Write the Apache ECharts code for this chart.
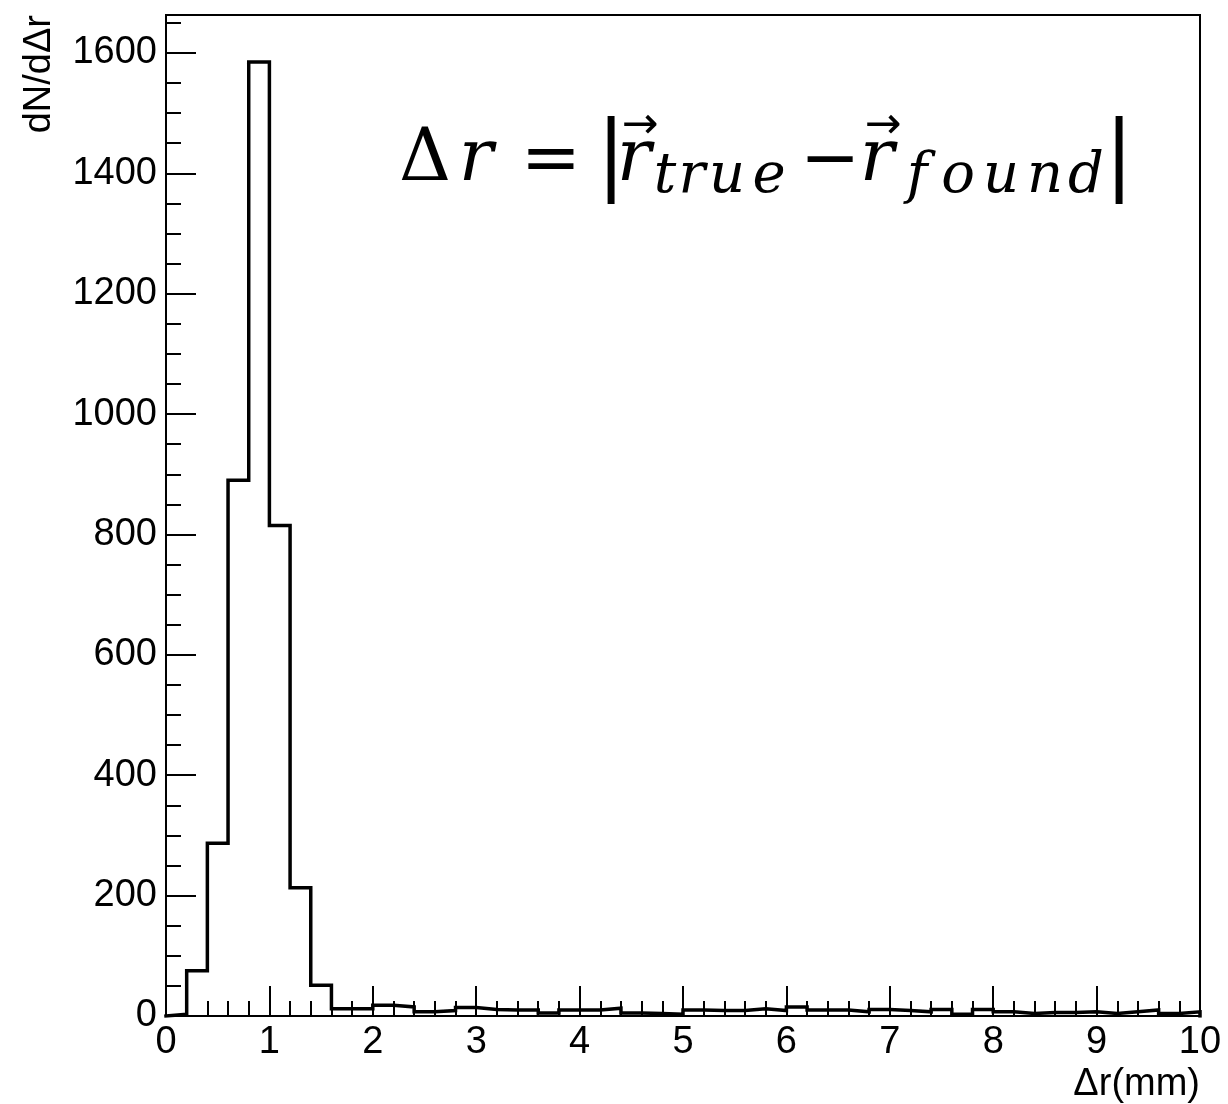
<!DOCTYPE html>
<html><head><meta charset="utf-8">
<script src="https://cdn.jsdelivr.net/npm/echarts@6/dist/echarts.min.js"></script>
<style>html,body{margin:0;padding:0;background:#fff}#c{width:1228px;height:1104px}</style>
</head><body><div id="c"></div>
<script>
// Histogram: 50 bins of width 0.2 from 0 to 10 (mm)
const binLow = 0;
const binHigh = 10;
const binWidth = 0.2;
const counts = [3, 75, 287, 890, 1585, 815, 213, 51, 12, 12,
                18, 15, 7, 9, 14, 11, 10, 10, 5, 10,
                10, 13, 5, 4, 3, 10, 9, 9, 12, 9,
                15, 10, 10, 7, 11, 9, 7, 11, 3, 11,
                7, 4, 6, 6, 7, 4, 7, 10, 4, 7];
const yMax = 1663;
const xTitle = 'Δr(mm)';
const yTitle = 'dN/dΔr';

// build step-outline points from bin edges and counts
const pts = [[binLow, 0]];
for (let i = 0; i < counts.length; i++) pts.push([+(binLow + i * binWidth).toFixed(2), counts[i]]);
pts.push([binHigh, counts[counts.length - 1]]);
pts.push([binHigh, 0]);

const labelFont = {fontFamily: 'Liberation Sans, Arial, sans-serif', fontSize: 38, color: '#000'};
const serif = 'DejaVu Serif, Liberation Serif, serif';

// formula  Δr = |r⃗_true − r⃗_found|  laid out glyph by glyph: [text, centre x, centre y, font]
const M = '72px ' + serif, MI = 'italic 72px ' + serif, S = 'italic 56px ' + serif;
const glyphs = [
  ['Δ', 425, 161, M], ['r', 476, 161, MI], ['=', 551, 163, M], ['|', 611, 160, '88px ' + serif],
  ['r', 634, 161, MI], ['→', 640, 127, '44px DejaVu Sans, sans-serif'],
  ['t', 665, 177, S], ['r', 692, 177, S], ['u', 727, 177, S], ['e', 769, 177, S],
  ['−', 830, 163, M],
  ['r', 877, 161, MI], ['→', 883, 127, '44px DejaVu Sans, sans-serif'],
  ['f', 917, 177, S], ['o', 958, 177, S], ['u', 1001, 177, S], ['n', 1045, 177, S], ['d', 1086, 177, S],
  ['|', 1119, 160, '88px ' + serif]
];

const chart = echarts.init(document.getElementById('c'), null, {renderer: 'canvas'});
chart.setOption({
  animation: false,
  backgroundColor: '#fff',
  grid: {left: 166, right: 28, top: 15, bottom: 88, show: true, borderColor: '#000', borderWidth: 2, backgroundColor: 'transparent'},
  xAxis: {
    type: 'value', min: binLow, max: binHigh, interval: 1,
    axisLine: {show: true, onZero: false, lineStyle: {color: '#000', width: 2}},
    axisTick: {show: true, inside: true, length: 30, lineStyle: {color: '#000', width: 2}},
    minorTick: {show: true, splitNumber: 5, length: 15, lineStyle: {color: '#000', width: 2}},
    splitLine: {show: false}, minorSplitLine: {show: false},
    axisLabel: Object.assign({margin: 8, formatter: v => String(v)}, labelFont)
  },
  yAxis: [{
    type: 'value', min: 0, max: yMax, interval: 200,
    axisLine: {show: true, lineStyle: {color: '#000', width: 2}},
    axisTick: {show: true, inside: true, length: 30, lineStyle: {color: '#000', width: 2}},
    splitLine: {show: false},
    axisLabel: Object.assign({margin: 9, showMaxLabel: false, formatter: v => String(v)}, labelFont)
  }, {
    type: 'value', min: 0, max: yMax, interval: 50, position: 'left', offset: 0,
    axisLine: {show: false},
    axisTick: {show: true, inside: true, length: 15, lineStyle: {color: '#000', width: 2}},
    splitLine: {show: false},
    axisLabel: {show: false}
  }],
  series: [{
    type: 'line', step: 'end', data: pts, symbol: 'none', yAxisIndex: 0,
    lineStyle: {color: '#000', width: 3.5, join: 'miter', cap: 'square'}, clip: true
  }],
  graphic: [
    {type: 'text', x: 40, y: 15, rotation: Math.PI / 2,
     style: {text: yTitle, fill: '#000', font: '38px Liberation Sans, Arial, sans-serif', align: 'right', verticalAlign: 'middle'}},
    {type: 'text', x: 1200, y: 1085,
     style: {text: xTitle, fill: '#000', font: '38px Liberation Sans, Arial, sans-serif', align: 'right', verticalAlign: 'middle'}}
  ].concat(glyphs.map(g => ({type: 'text', x: g[1], y: g[2],
     style: {text: g[0], fill: '#000', font: g[3], align: 'center', verticalAlign: 'middle'}})))
});
</script></body></html>
